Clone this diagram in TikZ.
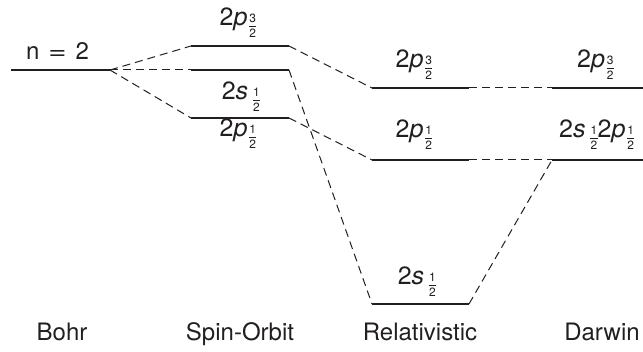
\documentclass[tikz,border=0pt]{standalone}
\usepackage{fontspec}
\setmainfont{TeX Gyre Heros}
\newcommand\hf[1]{\hspace{1.5pt}\raisebox{-12pt}{\fontsize{12}{12}\selectfont\shortstack{#1\\\rule{7.5pt}{0.7pt}\\2}}}
\newcommand\wideq{\hspace{9pt}\scalebox{1.3}[1]{=}\hspace{9pt}}
\definecolor{ink}{HTML}{231F20}
\tikzset{
  lvl/.style={line width=2.8pt, ink},
  con/.style={ink, dash pattern=on 8pt off 5pt, line width=1pt},
  lab/.style={font=\fontsize{25}{29}\selectfont, anchor=base, inner sep=0pt, text=ink},
  capt/.style={font=\fontsize{24}{29}\selectfont, anchor=base, inner sep=0pt, text=ink}
}
\begin{document}
\begin{tikzpicture}[x=1pt,y=-1pt]
\useasboundingbox (0,0) rectangle (643,352);
% level end points
\coordinate (bL) at (11,70);   \coordinate (bR) at (110,70);
\coordinate (s3L) at (191,46); \coordinate (s3R) at (289,46);
\coordinate (ssL) at (191,70); \coordinate (ssR) at (289,70);
\coordinate (s1L) at (191,118);\coordinate (s1R) at (289,118);
\coordinate (r3L) at (372,88); \coordinate (r3R) at (469,88);
\coordinate (r1L) at (372,160);\coordinate (r1R) at (469,160);
\coordinate (rsL) at (372,304);\coordinate (rsR) at (469,304);
\coordinate (d3L) at (552,88); \coordinate (d3R) at (660,88);
\coordinate (d1L) at (552,160);\coordinate (d1R) at (660,160);
% levels
\foreach \a/\b in {bL/bR,s3L/s3R,ssL/ssR,s1L/s1R,r3L/r3R,r1L/r1R,rsL/rsR,d3L/d3R,d1L/d1R}
  \draw[lvl] (\a) -- (\b);
% connectors
\draw[con] (bR) -- (s3L);
\draw[con] (bR) -- (ssL);
\draw[con] (bR) -- (s1L);
\draw[con] (s3R) -- (r3L);
\draw[con] (ssR) -- (rsL);
\draw[con] (s1R) -- (r1L);
\draw[con] (r3R) -- (d3L);
\draw[con] (r1R) -- (d1L);
\draw[con] (rsR) -- (d1L);
% labels
\node[lab, font=\fontsize{24}{28}\selectfont] (ln) at (57.5,60) {n\wideq 2};
\node[lab] (ls3) at (238,26) {2\textit{p}\hf{3}};
\node[lab] (lss) at (241,100) {2\textit{s}\hspace{3pt}\hf{1}};
\node[lab] (ls1) at (238,137) {2\textit{p}\hf{1}};
\node[lab] (lr3) at (414,68) {2\textit{p}\hf{3}};
\node[lab] (lr1) at (414,138) {2\textit{p}\hf{1}};
\node[lab] (lrs) at (417,285) {2\textit{s}\hspace{3pt}\hf{1}};
\node[lab, anchor=base west] (ld3) at (577,68) {2\textit{p}\hf{3}};
\node[lab, anchor=base west] (ld1) at (559,138) {2\textit{s}\hspace{3pt}\hf{1}2\textit{p}\hf{1}};
% captions
\node[capt] (cb) at (62,341) {Bohr};
\node[capt] (cs) at (240,341) {Spin-Orbit};
\node[capt] (cr) at (420,341) {Relativistic};
\node[capt] (cd) at (602,341) {Darwin};
\end{tikzpicture}
\end{document}
